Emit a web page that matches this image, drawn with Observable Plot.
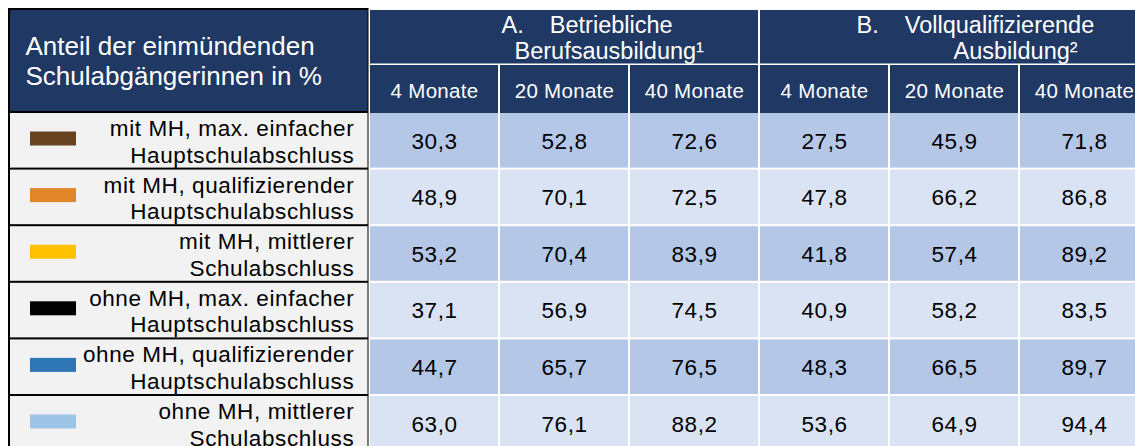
<!DOCTYPE html>
<html>
<head>
<meta charset="utf-8">
<script src="https://cdn.jsdelivr.net/npm/d3@7"></script>
<script src="https://cdn.jsdelivr.net/npm/@observablehq/plot@0.6"></script>
<style>
  html, body { margin: 0; padding: 0; background: #fff; }
  #chart svg { display: block; }
</style>
</head>
<body>
<div id="chart"></div>
<script>
// ---------- data ----------
const headerTitle = ["Anteil der einmündenden", "Schulabgängerinnen in %"];
const groupLine1 = ["A.    Betriebliche", "B.    Vollqualifizierende"];
const groupLine2 = ["Berufsausbildung¹", "Ausbildung²"];
const periods = ["4 Monate", "20 Monate", "40 Monate"];
const categories = [
  "mit MH, max. einfacher\nHauptschulabschluss",
  "mit MH, qualifizierender\nHauptschulabschluss",
  "mit MH, mittlerer\nSchulabschluss",
  "ohne MH, max. einfacher\nHauptschulabschluss",
  "ohne MH, qualifizierender\nHauptschulabschluss",
  "ohne MH, mittlerer\nSchulabschluss"
];
const swatchColors = ["#674322", "#e2862a", "#ffc000", "#000000", "#2e75b6", "#9dc3e6"];
const betrieblich4  = [30.3, 48.9, 53.2, 37.1, 44.7, 63.0];
const betrieblich20 = [52.8, 70.1, 70.4, 56.9, 65.7, 76.1];
const betrieblich40 = [72.6, 72.5, 83.9, 74.5, 76.5, 88.2];
const vollqual4     = [27.5, 47.8, 41.8, 40.9, 48.3, 53.6];
const vollqual20    = [45.9, 66.2, 57.4, 58.2, 66.5, 64.9];
const vollqual40    = [71.8, 86.8, 89.2, 83.5, 89.7, 94.4];

// ---------- layout (pixels) ----------
const W = 1135, H = 446;
const L = {
  frameLeft: 8, frameTop: 8, border: 2, labelRight: 368.5,
  colStart: 369, colStep: 130, gap: 1,
  headTop: 10, groupBottom: 63.5, subTop: 65, bodyTop: 112, rowStep: 56.6,
  headTextX: 25, headBase: 54, headLine: 30,
  groupBase1: 32.3, groupBase2: 58.3,
  groupX1: [132, 97], groupX2: [145, 194],
  subBase: 97.3,
  labelX: 353.8, labelBase1: 23.5, labelBase2: 50,
  swatchX1: 30, swatchX2: 76, swatchMid: 26.5, swatchH: 14,
  valueBase: 36
};
const navy = "#1f3864", dark = "#b4c7e7", light = "#dae3f3", grey = "#f2f2f2";
const font = "Liberation Sans, Arial, Helvetica, sans-serif";

const columns = [betrieblich4, betrieblich20, betrieblich40, vollqual4, vollqual20, vollqual40];
const rowTop = i => L.bodyTop + i * L.rowStep;
const colX1 = j => L.colStart + j * L.colStep + L.gap;
const colX2 = j => L.colStart + (j + 1) * L.colStep - L.gap;
const colMid = j => L.colStart + (j + 0.5) * L.colStep;

const rows = categories.map((c, i) => {
  const [l1, l2] = c.split("\n");
  return {i, l1, l2, color: swatchColors[i]};
});
const cells = [];
columns.forEach((col, j) => col.forEach((v, i) => cells.push({i, j, v})));
const subHeads = [];
[0, 1].forEach(g => periods.forEach((p, k) => subHeads.push({j: g * 3 + k, p})));
const groupsData = [0, 1].map(g => ({g, t1: groupLine1[g], t2: groupLine2[g]}));
const fmt = v => v.toFixed(1).replace(".", ",");

const chart = Plot.plot({
  width: W, height: H,
  marginTop: 0, marginRight: 0, marginBottom: 0, marginLeft: 0,
  x: {domain: [0, W], range: [0, W], axis: null},
  y: {domain: [0, H], range: [0, H], axis: null},
  style: {fontFamily: font, background: "#fff", overflow: "hidden"},
  marks: [
    // left column frame (black borders + separators)
    Plot.rect([0], {x1: L.frameLeft, x2: L.labelRight, y1: L.frameTop, y2: H + 20, fill: "#000"}),
    // left header cell
    Plot.rect([0], {x1: L.frameLeft + L.border, x2: L.labelRight - 1, y1: L.headTop, y2: L.bodyTop - 1, fill: navy}),
    // left label cells
    Plot.rect(rows, {x1: L.frameLeft + L.border, x2: L.labelRight - 1,
      y1: d => rowTop(d.i) + 1, y2: d => rowTop(d.i + 1) - 1, fill: grey}),
    // swatches
    Plot.rect(rows, {x1: L.swatchX1, x2: L.swatchX2,
      y1: d => rowTop(d.i) + L.swatchMid - L.swatchH / 2,
      y2: d => rowTop(d.i) + L.swatchMid + L.swatchH / 2, fill: d => d.color}),
    // group headers
    Plot.rect(groupsData, {x1: d => colX1(d.g * 3), x2: d => colX2(d.g * 3 + 2),
      y1: L.headTop, y2: L.groupBottom, fill: navy}),
    // sub headers
    Plot.rect(subHeads, {x1: d => colX1(d.j), x2: d => colX2(d.j),
      y1: L.subTop, y2: L.bodyTop + 1, fill: navy}),
    // body cells
    Plot.rect(cells, {x1: d => colX1(d.j), x2: d => colX2(d.j),
      y1: d => rowTop(d.i) + 1, y2: d => rowTop(d.i + 1) - 1,
      fill: d => d.i % 2 === 0 ? dark : light}),
    // header texts
    Plot.text(headerTitle, {x: L.headTextX, y: (d, i) => L.headBase + i * L.headLine, text: d => d,
      textAnchor: "start", lineAnchor: "bottom", fill: "#fff", fontSize: 26}),
    Plot.text(groupsData, {x: d => L.colStart + d.g * 3 * L.colStep + L.groupX1[d.g], y: L.groupBase1,
      text: "t1", textAnchor: "start", lineAnchor: "bottom", fill: "#fff", fontSize: 23.5}),
    Plot.text(groupsData, {x: d => L.colStart + d.g * 3 * L.colStep + L.groupX2[d.g], y: L.groupBase2,
      text: "t2", textAnchor: "start", lineAnchor: "bottom", fill: "#fff", fontSize: 23.5}),
    Plot.text(subHeads, {x: d => colMid(d.j), y: L.subBase, text: "p",
      textAnchor: "middle", lineAnchor: "bottom", fill: "#fff", fontSize: 20.5, ariaDescription: "subheads"}),
    // labels
    Plot.text(rows, {x: L.labelX, y: d => rowTop(d.i) + L.labelBase1, text: "l1",
      textAnchor: "end", lineAnchor: "bottom", fill: "#000", fontSize: 22.5, ariaDescription: "labels"}),
    Plot.text(rows, {x: L.labelX, y: d => rowTop(d.i) + L.labelBase2, text: "l2",
      textAnchor: "end", lineAnchor: "bottom", fill: "#000", fontSize: 22.5, ariaDescription: "labels"}),
    // values
    Plot.text(cells, {x: d => colMid(d.j), y: d => rowTop(d.i) + L.valueBase, text: d => fmt(d.v),
      textAnchor: "middle", lineAnchor: "bottom", fill: "#000", fontSize: 22.5, ariaDescription: "values"})
  ]
});

const sel = d3.select(chart);
sel.selectAll('g[aria-description="values"] text').attr("letter-spacing", "0.5px");
sel.selectAll('g[aria-description="labels"] text').attr("letter-spacing", "0.6px");
sel.selectAll('g[aria-description="subheads"] text').attr("letter-spacing", "0.3px");
document.getElementById("chart").appendChild(chart);
</script>
</body>
</html>
